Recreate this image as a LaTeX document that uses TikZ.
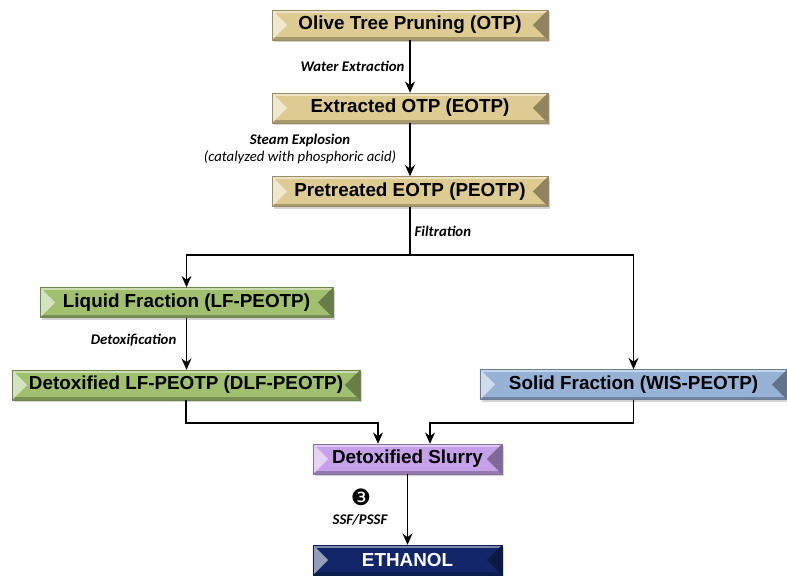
\documentclass[tikz,border=0pt]{standalone}
\usepackage{fontspec}
\setmainfont{Liberation Sans}
\newfontfamily\labelfont{Carlito}
\newfontfamily\zeichenfont{DejaVu Sans}
\usepackage{xcolor}
\usetikzlibrary{arrows.meta, shadows}

\definecolor{gold}{RGB}{222,203,145}
\definecolor{gruen}{RGB}{160,192,112}
\definecolor{blau}{RGB}{150,178,214}
\definecolor{lila}{RGB}{198,160,232}
\definecolor{marine}{RGB}{18,38,105}

\begin{document}
\begin{tikzpicture}[x=0.025cm, y=-0.025cm]
    \tikzset{
        kasten/.style={fill=#1, draw=#1!70!black, line width=0.3pt,
            minimum height=0.75cm, inner sep=0pt,
            font=\fontsize{13.4}{16}\selectfont\bfseries,
            drop shadow={opacity=0.35, shadow xshift=0.06cm, shadow yshift=-0.06cm},
            path picture={
                \fill[#1!55!white] (path picture bounding box.north west) rectangle ([yshift=-0.07cm]path picture bounding box.north east);
                \fill[#1!75!black] (path picture bounding box.south west) rectangle ([yshift=0.07cm]path picture bounding box.south east);
                \fill[#1!45!white] (path picture bounding box.north west) -- ([xshift=0.38cm]path picture bounding box.west) -- (path picture bounding box.south west) -- cycle;
                \fill[#1!65!black] (path picture bounding box.north east) -- ([xshift=-0.38cm]path picture bounding box.east) -- (path picture bounding box.south east) -- cycle;
            }},
        pfeil/.style={line width=1.4pt, -{Stealth[length=8pt, width=7pt]}},
        linie/.style={line width=1.4pt},
        beschriftung/.style={font=\labelfont\fontsize{10.5}{12}\selectfont\bfseries\itshape, inner sep=1pt}
    }

    \useasboundingbox (0,0) rectangle (787,576);

    % --- Kaesten ---
    \node[kasten=gold, minimum width=6.9cm] (otp) at (410,25) {Olive Tree Pruning (OTP)};
    \node[kasten=gold, minimum width=6.9cm] (eotp) at (410,108) {Extracted OTP (EOTP)};
    \node[kasten=gold, minimum width=6.9cm] (peotp) at (410,191.5) {Pretreated EOTP (PEOTP)};
    \node[kasten=gruen, minimum width=7.325cm] (lf) at (186.5,302.5) {Liquid Fraction (LF-PEOTP)};
    \node[kasten=gruen, minimum width=8.7cm] (dlf) at (186,385) {Detoxified LF-PEOTP (DLF-PEOTP)};
    \node[kasten=blau, minimum width=7.675cm] (wis) at (633.5,384.5) {Solid Fraction (WIS-PEOTP)};
    \node[kasten=lila, minimum width=4.725cm] (slurry) at (407.5,459) {Detoxified Slurry};
    \node[kasten=marine, minimum width=4.725cm, text=white] (ethanol) at (407.5,560) {ETHANOL};

    % --- Pfeile ---
    \draw[pfeil] (otp) -- (eotp);
    \draw[pfeil] (eotp) -- (peotp);
    \coordinate (verzweigung) at (410,255);
    \draw[linie] (peotp) -- (verzweigung);
    \draw[pfeil] (verzweigung) -| (lf);
    \draw[pfeil] (verzweigung) -| (wis);
    \draw[pfeil] (lf.south) -- (lf.south |- dlf.north);
    \coordinate (sammel_links) at (378,423);
    \coordinate (sammel_rechts) at (430,423);
    \draw[pfeil] (dlf.south) |- (sammel_links) -- (sammel_links |- slurry.north);
    \draw[pfeil] (wis.south) |- (sammel_rechts) -- (sammel_rechts |- slurry.north);
    \draw[pfeil] (slurry) -- (ethanol);

    % --- Beschriftungen ---
    \node[beschriftung, anchor=east] (wasser) at (406,66) {Water Extraction};
    \node[beschriftung, align=center] (dampf) at (300,149) {Steam Explosion\\{\mdseries (catalyzed with phosphoric acid)}};
    \node[beschriftung, anchor=west] (filtration) at (413,231) {Filtration};
    \node[beschriftung, anchor=east] (detox) at (178,340) {Detoxification};
    \node[font=\zeichenfont\fontsize{16}{16}\selectfont, inner sep=0pt] (nummer) at (361,497) {❸};
    \node[beschriftung] (ssf) at (360,520) {SSF/PSSF};

\end{tikzpicture}
\end{document}
